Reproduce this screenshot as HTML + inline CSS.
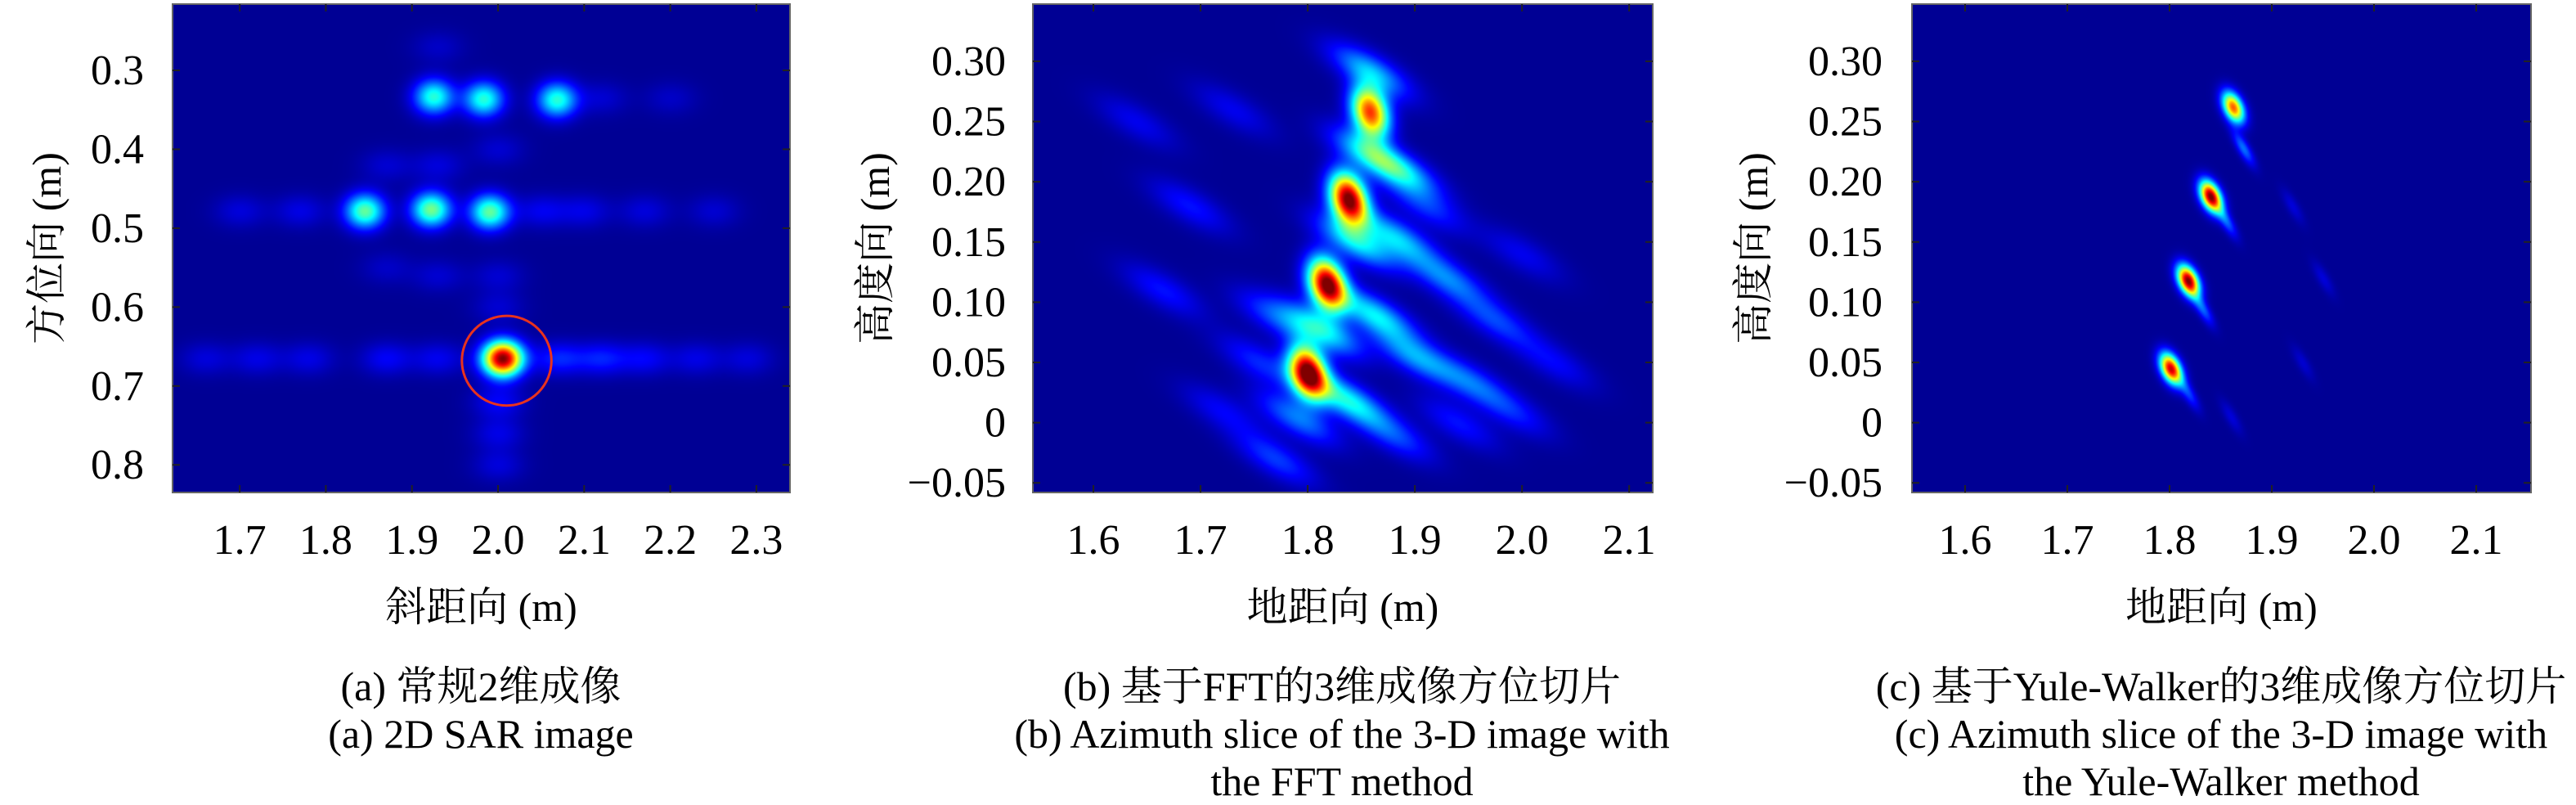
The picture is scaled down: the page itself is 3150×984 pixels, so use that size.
<!DOCTYPE html>
<html><head><meta charset="utf-8">
<style>
html,body{margin:0;padding:0;background:#fff;}
body{width:3150px;height:984px;position:relative;overflow:hidden;font-family:"Liberation Serif","DejaVu Serif","Noto Serif CJK SC",serif;}
canvas{position:absolute;}
svg{position:absolute;left:0;top:0;}
text{font-family:"Liberation Serif","DejaVu Serif","Noto Serif CJK SC",serif;fill:#000;}
</style></head>
<body>
<canvas id="ca"></canvas>
<canvas id="cb"></canvas>
<canvas id="cc"></canvas>
<svg id="ov" width="3150" height="984"></svg>
<script>
// ---------- Panel (a) data ----------
const aXTicks=[1.7,1.8,1.9,2.0,2.1,2.2,2.3];
const aXTickLabels=["1.7","1.8","1.9","2.0","2.1","2.2","2.3"];
const aYTicks=[0.3,0.4,0.5,0.6,0.7,0.8];
const aYTickLabels=["0.3","0.4","0.5","0.6","0.7","0.8"];
const aTargetX=[1.925,1.983,2.068,1.845,1.922,1.990,2.005];
const aTargetY=[0.333,0.336,0.337,0.478,0.476,0.479,0.665];
const aTargetAmp=[0.40,0.40,0.40,0.46,0.48,0.46,1.0];
const aLobeX=[1.66,1.72,1.78,1.87,1.93,2.07,2.12,2.17,2.23,2.29,1.70,1.77,2.05,2.10,2.17,2.25,2.0,2.0,2.0,2.0,2.0,2.0,1.93,1.93,1.93,1.87,1.87,2.12,2.20];
const aLobeY=[0.665,0.665,0.665,0.665,0.665,0.665,0.665,0.665,0.665,0.665,0.478,0.478,0.478,0.478,0.478,0.478,0.72,0.76,0.80,0.56,0.60,0.40,0.42,0.56,0.27,0.42,0.55,0.335,0.335];
const aLobeAmp=[0.07,0.08,0.08,0.10,0.09,0.14,0.13,0.10,0.08,0.07,0.07,0.08,0.09,0.08,0.07,0.06,0.10,0.08,0.07,0.06,0.06,0.06,0.07,0.06,0.05,0.06,0.05,0.06,0.05];
const aCircle=[2.01,0.668,0.052];
// ---------- Panel (b) data ----------
const bXTicks=[1.6,1.7,1.8,1.9,2.0,2.1];
const bXTickLabels=["1.6","1.7","1.8","1.9","2.0","2.1"];
const bYTicks=[0.30,0.25,0.20,0.15,0.10,0.05,0,-0.05];
const bYTickLabels=["0.30","0.25","0.20","0.15","0.10","0.05","0","\u22120.05"];
const bTargetX=[1.800,1.818,1.838,1.858];
const bTargetY=[0.042,0.115,0.186,0.258];
const bTargetAmp=[1.0,1.0,1.0,0.82];
const bLobeX=[1.835,1.812,1.862,1.845,1.880,1.860,1.885,1.858,1.790,1.900,1.930,1.950,1.975,1.770,1.755,1.690,1.665,1.770,1.990,2.030,1.910,1.880,1.940,2.000,1.720,1.640,1.730];
const bLobeY=[0.020,0.078,0.090,0.150,0.155,0.222,0.210,0.292,0.004,0.055,0.120,0.035,0.085,0.088,0.050,0.180,0.110,-0.030,0.010,0.050,0.180,-0.010,0.000,0.140,0.010,0.250,0.260];
const bLobeAmp=[0.36,0.34,0.34,0.32,0.30,0.30,0.26,0.28,0.22,0.24,0.22,0.18,0.16,0.16,0.14,0.12,0.12,0.16,0.12,0.10,0.14,0.16,0.12,0.09,0.10,0.09,0.09];
// ---------- Panel (c) data ----------
const cXTicks=[1.6,1.7,1.8,1.9,2.0,2.1];
const cXTickLabels=["1.6","1.7","1.8","1.9","2.0","2.1"];
const cYTicks=[0.30,0.25,0.20,0.15,0.10,0.05,0,-0.05];
const cYTickLabels=["0.30","0.25","0.20","0.15","0.10","0.05","0","\u22120.05"];
const cTargetX=[1.801,1.818,1.840,1.862];
const cTargetY=[0.045,0.118,0.188,0.262];
const cTargetAmp=[0.92,1.0,1.0,0.78];
const cLobeX=[1.872,1.855,1.832,1.818,1.92,1.95,1.93,1.86];
const cLobeY=[0.228,0.168,0.095,0.025,0.180,0.120,0.050,0.005];
const cLobeAmp=[0.22,0.20,0.20,0.16,0.07,0.07,0.06,0.07];

// ---------- layout (styles) ----------
const panels=[
 {id:'a',cv:'ca',L:211,R:966,T:5,B:602,x0:1.622,x1:2.339,y0:0.216,y1:0.835,
  xt:aXTicks,xl:aXTickLabels,yt:aYTicks,yl:aYTickLabels,tx:aTargetX,ty:aTargetY,ta:aTargetAmp,lx:aLobeX,ly:aLobeY,la:aLobeAmp,
  tsx:17,tsy:15,tang:0,lsx:22,lsy:14,lang:0,ylr:176,ylabX:57,xlab:"斜距向 (m)",ylab:"方位向 (m)",capX:588,
  caps:["(a) 常规2维成像","(a) 2D SAR image"]},
 {id:'b',cv:'cb',L:1263,R:2021,T:5,B:602,x0:1.5435,x1:2.122,y0:0.3475,y1:-0.058,
  xt:bXTicks,xl:bXTickLabels,yt:bYTicks,yl:bYTickLabels,tx:bTargetX,ty:bTargetY,ta:bTargetAmp,lx:bLobeX,ly:bLobeY,la:bLobeAmp,
  tsx:15,tsy:23,tang:-20,lsx:38,lsy:14,lang:30,ylr:1230,ylabX:1070,xlab:"地距向 (m)",ylab:"高度向 (m)",capX:1641,
  caps:["(b) 基于FFT的3维成像方位切片","(b) Azimuth slice of the 3-D image with","the FFT method"]},
 {id:'c',cv:'cc',L:2338,R:3095,T:5,B:602,x0:1.548,x1:2.1536,y0:0.3475,y1:-0.058,
  xt:cXTicks,xl:cXTickLabels,yt:cYTicks,yl:cYTickLabels,tx:cTargetX,ty:cTargetY,ta:cTargetAmp,lx:cLobeX,ly:cLobeY,la:cLobeAmp,
  tsx:8,tsy:14,tang:-25,lsx:5,lsy:16,lang:-30,ylr:2302,ylabX:2144,xlab:"地距向 (m)",ylab:"高度向 (m)",capX:2716,
  caps:["(c) 基于Yule-Walker的3维成像方位切片","(c) Azimuth slice of the 3-D image with","the Yule-Walker method"]}
];

function jet(v){
  v=Math.max(0,Math.min(1,v));
  const r=Math.max(0,Math.min(1,Math.min(4*v-1.5,-4*v+4.5)));
  const g=Math.max(0,Math.min(1,Math.min(4*v-0.5,-4*v+3.5)));
  const b=Math.max(0,Math.min(1,Math.min(4*v+0.5,-4*v+2.5)));
  return [r*255,g*255,b*255];
}
const NS='http://www.w3.org/2000/svg';
const ov=document.getElementById('ov');
const FF='"Liberation Serif","DejaVu Serif","Noto Serif CJK SC",serif';
function el(tag,attrs,txt){const e=document.createElementNS(NS,tag);for(const k in attrs)e.setAttribute(k,attrs[k]);if(tag==='text'){e.setAttribute('font-family',FF);e.style.fontFamily=FF;}if(txt!==undefined)e.textContent=txt;ov.appendChild(e);return e;}

panels.forEach(p=>{
  const W=p.R-p.L,H=p.B-p.T;
  const sx=v=>p.L+(v-p.x0)/(p.x1-p.x0)*W;
  const sy=v=>p.T+(v-p.y0)/(p.y1-p.y0)*H;
  const cv=document.getElementById(p.cv);
  cv.width=W;cv.height=H;cv.style.left=p.L+'px';cv.style.top=p.T+'px';
  const ctx=cv.getContext('2d');
  const img=ctx.createImageData(W,H);
  const field=new Float32Array(W*H);
  function addBlobs(xs,ys,as,sgx,sgy,ang){
    const c=Math.cos(ang*Math.PI/180),s=Math.sin(ang*Math.PI/180);
    for(let i=0;i<xs.length;i++){
      const cx=sx(xs[i])-p.L,cy=sy(ys[i])-p.T,a=as[i];
      const rad=4*Math.max(sgx,sgy);
      const xa=Math.max(0,Math.floor(cx-rad)),xb=Math.min(W-1,Math.ceil(cx+rad));
      const ya=Math.max(0,Math.floor(cy-rad)),yb=Math.min(H-1,Math.ceil(cy+rad));
      for(let y=ya;y<=yb;y++)for(let x=xa;x<=xb;x++){
        const dx=x-cx,dy=y-cy;
        const u=dx*c+dy*s,w=-dx*s+dy*c;
        field[y*W+x]+=a*Math.exp(-0.5*(u*u/(sgx*sgx)+w*w/(sgy*sgy)));
      }
    }
  }
  addBlobs(p.tx,p.ty,p.ta,p.tsx,p.tsy,p.tang);
  addBlobs(p.lx,p.ly,p.la,p.lsx,p.lsy,p.lang);
  for(let i=0;i<W*H;i++){
    const col=jet(0.02+0.98*Math.min(1,field[i]));
    img.data[4*i]=col[0];img.data[4*i+1]=col[1];img.data[4*i+2]=col[2];img.data[4*i+3]=255;
  }
  ctx.putImageData(img,0,0);

  const fr=el('rect',{x:p.L,y:p.T,width:W,height:H,fill:'none',stroke:'#666','stroke-width':2});
  
  
  p.xt.forEach((v,i)=>{
    const X=sx(v);
    el('line',{x1:X,x2:X,y1:p.B,y2:p.B-9,stroke:'#222','stroke-width':2});
    el('line',{x1:X,x2:X,y1:p.T,y2:p.T+9,stroke:'#222','stroke-width':2});
    const t=el('text',{x:X,y:677,'font-size':52,'text-anchor':'middle'},p.xl[i]);
    
    
  });
  p.yt.forEach((v,i)=>{
    const Y=sy(v);
    el('line',{x1:p.L,x2:p.L+9,y1:Y,y2:Y,stroke:'#222','stroke-width':2});
    el('line',{x1:p.R,x2:p.R-9,y1:Y,y2:Y,stroke:'#222','stroke-width':2});
    const t=el('text',{x:p.ylr,y:Y+17,'font-size':52,'text-anchor':'end'},p.yl[i]);
    
    
  });
  const xl=el('text',{x:(p.L+p.R)/2,y:759,'font-size':50,'text-anchor':'middle'},p.xlab);
  
  
  const yc=(p.T+p.B)/2;
  const yl=el('text',{x:p.ylabX,y:yc,'font-size':50,'text-anchor':'middle','dominant-baseline':'central',transform:`rotate(-90 ${p.ylabX} ${yc})`},p.ylab);
  
  
  p.caps.forEach((c,i)=>{
    const t=el('text',{x:p.capX,y:856+i*58,'font-size':50,'text-anchor':'middle'},c);
    
    
  });
  if(p.id==='a'){
    const cxp=sx(aCircle[0]),cyp=sy(aCircle[1]),r=aCircle[2]/(p.x1-p.x0)*W;
    const ci=el('circle',{cx:cxp,cy:cyp,r:r,fill:'none',stroke:'#e8321e','stroke-width':3});
    
    
  }
});
</script>
</body></html>
